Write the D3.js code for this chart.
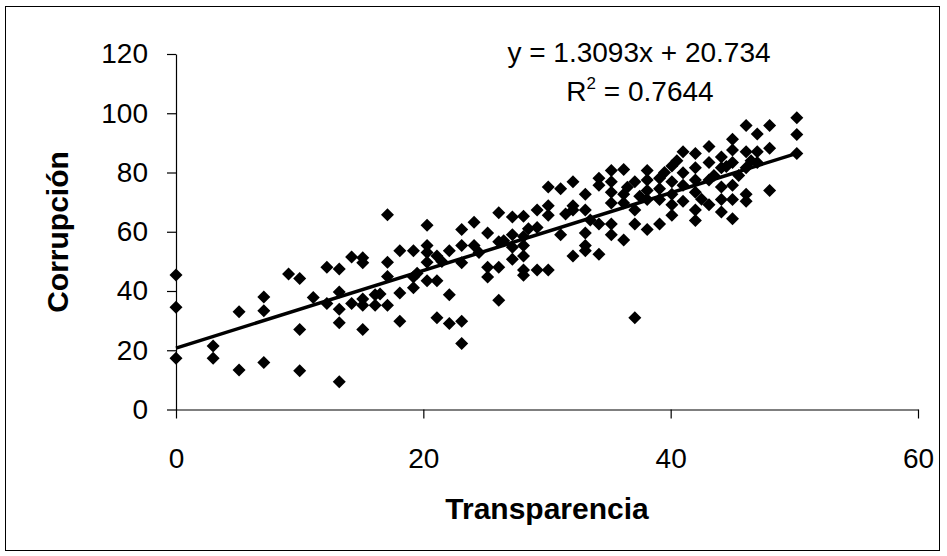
<!DOCTYPE html>
<html>
<head>
<meta charset="utf-8">
<script src="https://cdn.jsdelivr.net/npm/d3@7"></script>
<style>
  body { margin: 0; background: #fff; }
  text { font-family: "Liberation Sans", Arial, sans-serif; fill: #000; }
</style>
</head>
<body>
<div id="chart"></div>
<script>
// transparencia (x) and corrupción (y)
const transparencia = [
  0, 0, 0, 3, 3, 5.1, 5.1, 7.1, 7.1, 7.1, 9.1, 10, 10, 10, 11.1, 12.2, 12.2,
  13.2, 13.2, 13.2, 13.2, 13.2, 14.2, 14.2, 15.1, 15.1, 15.1, 15.1, 15.1, 16.1, 16.1,
  17.1, 17.1, 17.1, 17.1, 18.1, 18.1, 18.1, 19.2, 19.2, 19.2,
  20.3, 20.3, 20.3, 20.3, 20.3, 21.1, 21.1, 21.1, 22.1, 22.1, 22.1,
  23.1, 23.1, 23.1, 23.1, 23.1, 24.1, 24.1, 25.2, 25.2, 25.2,
  26.1, 26.1, 26.1, 26.1, 27.2, 27.2, 27.2, 27.2,
  28.1, 28.1, 28.1, 28.1, 28.1, 28.1, 29.2, 29.2, 29.2,
  30.1, 30.1, 30.1, 30.1, 31.1, 31.1, 32.1, 32.1, 32.1, 32.1,
  33.1, 33.1, 33.1, 33.1, 33.1, 34.2, 34.2, 34.2, 34.2,
  35.2, 35.2, 35.2, 35.2, 35.2, 35.2, 36.2, 36.2, 36.2, 36.2,
  37.1, 37.1, 37.1, 37.1, 38.1, 38.1, 38.1, 38.1, 38.1,
  39.1, 39.1, 39.1, 39.1, 40.1, 40.1, 40.1, 40.1, 40.1,
  41, 41, 41, 41, 42, 42, 42, 42, 42, 42, 43.1, 43.1, 43.1, 43.1,
  44.1, 44.1, 44.1, 44.1, 44.1, 45, 45, 45, 45, 45, 45,
  46.1, 46.1, 46.1, 46.1, 46.1, 47, 47, 47, 48, 48, 48, 50.2, 50.2, 50.2,
  36.5, 39.5, 40.5, 43.5, 44.5, 45.5, 46.5, 42.5, 37.5, 33.5, 31.5, 28.5, 26.5, 24.5, 21.5, 19.5, 16.5
];
const corrupcion = [
  45.4, 34.5, 17.3, 21.4, 17.3, 33, 13.3, 38, 33.3, 15.9, 45.7, 44.2, 27, 13.1, 37.8, 35.8, 48,
  47.4, 39.7, 33.8, 29.3, 9.4, 51.5, 35.8, 51.2, 49.5, 37.3, 35.2, 27, 38.7, 35.2,
  65.7, 49.7, 44.9, 35.2, 53.6, 39.3, 29.8, 53.6, 44.7, 41.1,
  62.2, 55.4, 53, 49.7, 43.5, 51.8, 43.5, 31, 53.6, 38.7, 29,
  60.8, 55.4, 49.5, 29.8, 22.3, 63.2, 55.4, 59.6, 48, 44.7,
  66.4, 56.6, 48, 36.9, 65, 59, 54.8, 50.7,
  65.2, 58.4, 55.4, 51.8, 47.1, 45.3, 67.3, 61.4, 47.1,
  75.1, 68.8, 65.6, 47.1, 74.5, 59, 76.9, 68.8, 67.3, 51.8,
  72.7, 67.3, 59.6, 55.4, 53.6, 78.1, 75.7, 62.6, 52.4,
  80.7, 76.9, 73.3, 69.7, 62.6, 59, 81, 72.7, 69.7, 57.2,
  76.9, 67.3, 62.6, 31, 80.7, 77.5, 73.9, 70.9, 60.8,
  78.1, 74.5, 70.9, 62.6, 82.2, 76.9, 72.7, 69.1, 65.6,
  87, 79.9, 75.7, 70.3, 86.4, 81.6, 77.5, 73.3, 67.3, 63.8, 88.8, 83.4, 77.5, 69.1,
  85.2, 81.6, 75.1, 70.9, 66.7, 91.2, 87.6, 83.4, 75.7, 70.9, 64.4,
  95.9, 87, 81.6, 72.7, 70.3, 93, 87, 83.4, 95.9, 88.2, 73.9, 98.5, 92.8, 86.4,
  75, 80, 84, 79, 82, 79, 84, 71, 72, 64, 66, 61, 57, 53, 50, 46, 39
];
const xTicks = [0, 20, 40, 60];
const yTicks = [0, 20, 40, 60, 80, 100, 120];
const slope = 1.3093;
const intercept = 20.734;
const equationText = 'y = 1.3093x + 20.734';
const r2Value = '0.7644';

const width = 947;
const height = 556;

const svg = d3.select('#chart')
              .append('svg')
              .attr('width', width)
              .attr('height', height);

// outer chart frame
svg.append('rect')
   .attr('x', 5.5)
   .attr('y', 6.5)
   .attr('width', 934)
   .attr('height', 544)
   .attr('fill', 'none')
   .attr('stroke', '#000')
   .attr('stroke-width', 1);

const xScale = d3.scaleLinear()
                 .domain([0, 60])
                 .range([176, 918]);

const yScale = d3.scaleLinear()
                 .domain([0, 120])
                 .range([409.5, 54]);

const xAxis = d3.axisBottom(xScale)
                .tickValues(xTicks)
                .tickSize(9)
                .tickSizeOuter(0)
                .tickPadding(30);

const yAxis = d3.axisLeft(yScale)
                .tickValues(yTicks)
                .tickSize(9)
                .tickSizeOuter(0)
                .tickPadding(19);

const gx = svg.append('g')
              .attr('transform', 'translate(0,' + yScale(0) + ')')
              .call(xAxis);

const gy = svg.append('g')
              .attr('transform', 'translate(' + xScale(0) + ',0)')
              .call(yAxis);

[gx, gy].forEach(g => {
  g.selectAll('text')
   .style('font-family', '"Liberation Sans", Arial, sans-serif')
   .style('font-size', '28px')
   .attr('fill', '#000');
  g.selectAll('line, path').attr('stroke', '#000').attr('stroke-width', 1.2);
});

// points
const diamond = 'M0,-6.5L6.5,0L0,6.5L-6.5,0Z';
svg.append('g')
   .selectAll('path')
   .data(transparencia)
   .enter()
   .append('path')
   .attr('d', diamond)
   .attr('transform', (d, i) => 'translate(' + xScale(d) + ',' + yScale(corrupcion[i]) + ')')
   .attr('fill', '#000');

// linear trendline across the data range
const xMax = d3.max(transparencia);
const trend = [0, xMax].map(x => [x, slope * x + intercept]);
svg.append('path')
   .datum(trend)
   .attr('d', d3.line().x(d => xScale(d[0])).y(d => yScale(d[1])))
   .attr('fill', 'none')
   .attr('stroke', '#000')
   .attr('stroke-width', 3.5);

// equation labels
svg.append('text')
   .attr('x', 639)
   .attr('y', 62)
   .attr('text-anchor', 'middle')
   .style('font-size', '28px')
   .text(equationText);

const r2 = svg.append('text')
              .attr('x', 640)
              .attr('y', 101)
              .attr('text-anchor', 'middle')
              .style('font-size', '28px');
r2.append('tspan').text('R');
r2.append('tspan').attr('dy', -12).style('font-size', '17px').text('2');
r2.append('tspan').attr('dy', 12).text(' = ' + r2Value);

// axis titles
svg.append('text')
   .attr('x', 547)
   .attr('y', 519)
   .attr('text-anchor', 'middle')
   .style('font-size', '30px')
   .style('font-weight', 'bold')
   .text('Transparencia');

svg.append('text')
   .attr('transform', 'rotate(-90)')
   .attr('x', -232)
   .attr('y', 68)
   .attr('text-anchor', 'middle')
   .style('font-size', '30px')
   .style('font-weight', 'bold')
   .text('Corrupción');
</script>
</body>
</html>
